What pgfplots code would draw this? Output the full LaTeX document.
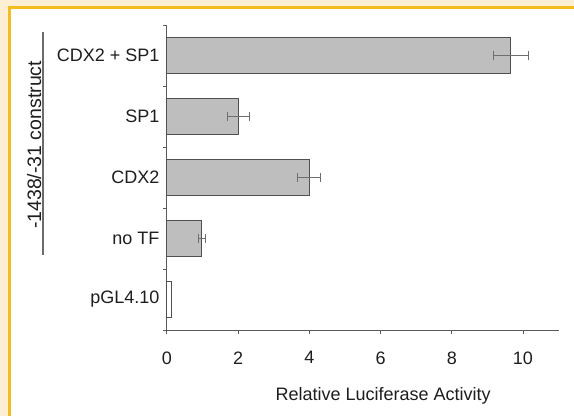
\documentclass[border=0pt]{standalone}
\usepackage{fontspec}
\setmainfont{Liberation Sans}
\usepackage{pgfplots}
\usepackage{pgfplotstable}
\pgfplotsset{compat=1.18}
\definecolor{cream}{HTML}{FCEFD4}
\definecolor{frameyellow}{HTML}{F4BC1C}
\definecolor{barfill}{HTML}{BEBEBE}
\definecolor{baredge}{HTML}{505050}
\definecolor{axisgray}{HTML}{5A5A5A}
\definecolor{errgray}{HTML}{6E6E6E}
\definecolor{textgray}{HTML}{1E1E1E}
\pgfplotstableread{
c v e
1 0.98 0.10
2 3.99 0.33
3 2.01 0.30
4 9.66 0.49
}\bars
\pgfplotstableread{
c v e
0 0.12 0.00
}\ctrl
\begin{document}
\begin{tikzpicture}[x=1pt,y=1pt]
\useasboundingbox (0,0) rectangle (574,416);
\fill[cream] (0,0) rectangle (574,416);
\fill[frameyellow] (8,0) rectangle (574,410);
\fill[white] (11,0) rectangle (574,407);
\draw[axisgray!90, line width=1.2pt] (43,161) -- (43,384);
\begin{axis}[
 at={(167pt,86pt)}, anchor=south west,
 scale only axis, width=391.6pt, height=305pt,
 xmin=0, xmax=11, ymin=-0.5, ymax=4.5,
 axis lines=left, axis line style={-, axisgray, line width=1pt},
 xtick={0,2,...,10},
 ytick={-0.5,0.5,...,4.5},
 yticklabels={pGL4.10, no TF, CDX2, SP1, CDX2 + SP1, {}},
 yticklabel style={yshift=30.5pt},
 tick align=outside, major tick length=4pt,
 tick style={axisgray, line width=1pt},
 /pgf/number format/assume math mode=true,
 tick label style={font=\fontsize{18}{20}\selectfont, text=textgray},
 xticklabel style={yshift=-14pt},
 xlabel={Relative Luciferase Activity},
 xlabel style={at={(axis description cs:0.552,-0.217)}, anchor=center, font=\fontsize{18}{20}\selectfont, text=textgray},
 ylabel={-1438/-31 construct},
 ylabel style={at={(axis description cs:-0.3215,0.607)}, anchor=base, font=\fontsize{19.5}{22}\selectfont, text=textgray},
 clip=false,
]
\addplot[xbar, bar shift=0pt, bar width=0.59, fill=barfill, draw=baredge, line width=1pt,
  error bars/.cd, x dir=both, x explicit,
  error bar style={errgray, line width=0.8pt},
  error mark options={errgray, rotate=90, mark size=4.5pt, line width=0.8pt}]
  table[x=v, y=c, x error=e] {\bars};
\addplot[xbar, bar shift=0pt, bar width=0.59, fill=white, draw=baredge, line width=1pt]
  table[x=v, y=c] {\ctrl};
\end{axis}
\end{tikzpicture}
\end{document}
